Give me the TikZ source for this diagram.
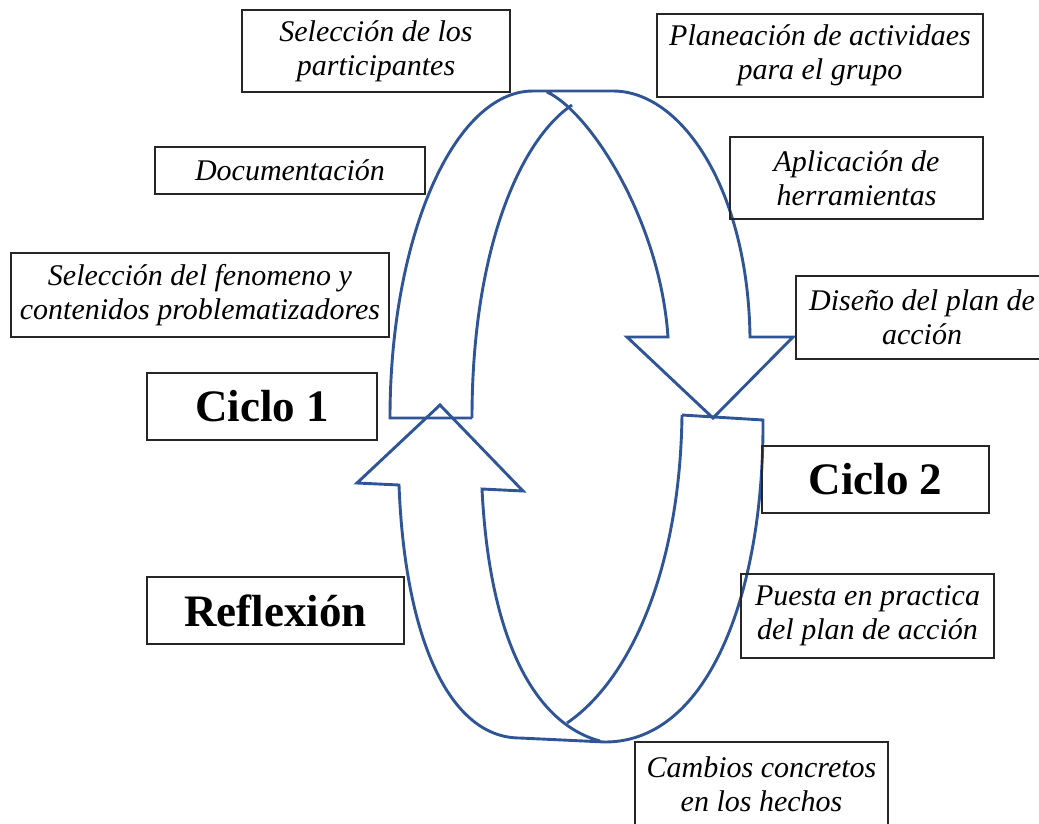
\documentclass[tikz,border=0pt]{standalone}
\usepackage{fontspec}
\setmainfont{Liberation Serif}
\definecolor{bandblue}{RGB}{47,85,151}
\begin{document}
\begin{tikzpicture}[x=1pt,y=-1pt,
  box/.style={draw=black!85, line width=1.2pt, align=center, inner sep=0pt,
    font=\fontsize{30}{34}\selectfont\itshape},
  bigbox/.style={draw=black!85, line width=1.2pt, align=center, inner sep=0pt,
    font=\fontsize{45}{50}\selectfont\bfseries},
  band/.style={draw=bandblue, line width=2.9pt, line join=miter}]
\useasboundingbox (0,0) rectangle (1039,823);
\clip (0,0) rectangle (1039,823);

% top arrow (Ciclo 1 -> Ciclo 2)
\draw[band] (472,418) -- (390,418)
  .. controls (390,237) and (454,91) .. (533,91) -- (613,91)
  .. controls (682,91) and (748,190) .. (750,337)
  -- (793,337) -- (713,418) -- (627,337) -- (668,337)
  .. controls (660,220) and (590,112) .. (547,92);
\draw[band] (472,418) .. controls (472,250) and (520,140) .. (572,105);

% bottom arrow (Ciclo 2 -> Reflexion -> Ciclo 1)
\draw[band] (682,415) -- (763,420)
  .. controls (764,590) and (710,742) .. (605,742) -- (520,738)
  .. controls (450,738) and (405,640) .. (399,485)
  -- (357,483) -- (440,405) -- (523,491) -- (482,489)
  .. controls (490,650) and (540,725) .. (600,741);
\draw[band] (682,415) .. controls (680,570) and (630,680) .. (567,723);

% labels
\node[box, minimum width=268, minimum height=82] (sel) at (376,51) {Selección de los\\participantes};
\node[box, minimum width=326, minimum height=83] (plan) at (820,55.5) {Planeación de actividaes\\para el grupo};
\node[box, minimum width=270, minimum height=47] (doc) at (290,170.5) {Documentación};
\node[box, minimum width=253, minimum height=82] (apl) at (856.5,178) {Aplicación de\\herramientas};
\node[box, minimum width=378, minimum height=84] (fen) at (200,295) {Selección del fenomeno y\\contenidos problematizadores};
\node[box, minimum width=252, minimum height=83] (dis) at (922,317.5) {Diseño del plan de\\acción};
\node[bigbox, minimum width=230, minimum height=67] (c1) at (262,406.5) {Ciclo 1};
\node[bigbox, minimum width=227, minimum height=67] (c2) at (875.5,479.5) {Ciclo 2};
\node[bigbox, minimum width=257, minimum height=67] (ref) at (275.5,610.5) {Reflexión};
\node[box, minimum width=253, minimum height=84] (pue) at (867.5,616) {Puesta en practica\\del plan de acción};
\node[box, minimum width=253, minimum height=84] (cam) at (761.5,784) {Cambios concretos\\en los hechos};
\end{tikzpicture}
\end{document}
